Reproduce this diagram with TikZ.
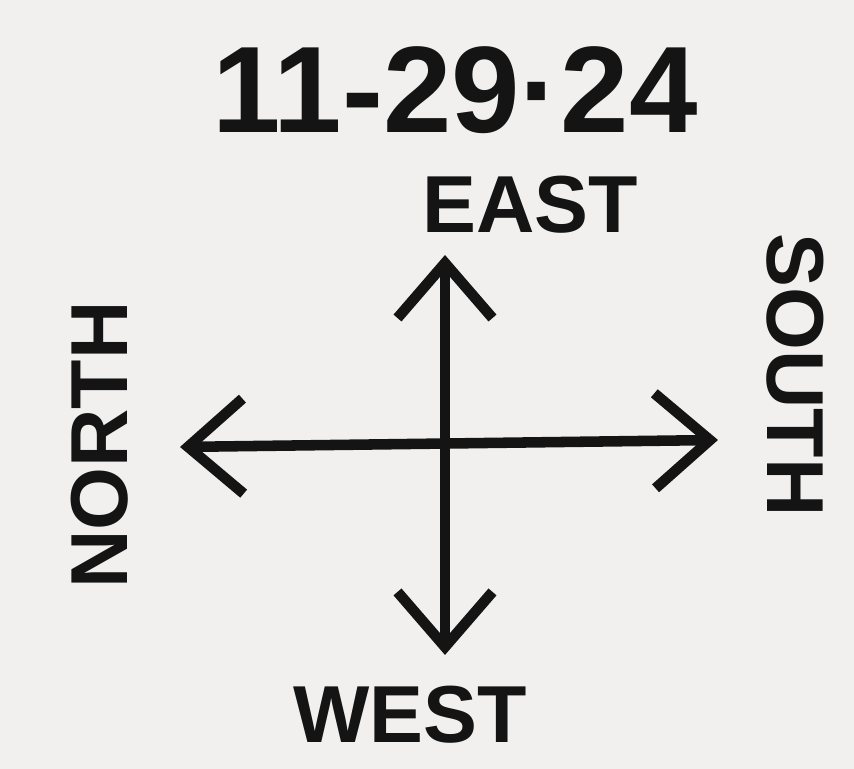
\documentclass[tikz,border=0pt]{standalone}
\usepackage{fontspec}
\setmainfont{Liberation Sans}
\usetikzlibrary{arrows.meta}
\definecolor{paper}{HTML}{F1F0EF}
\definecolor{ink}{HTML}{141414}
\tikzset{
  pen/.style={draw=ink, line width=3pt, line cap=round, line join=round},
  tip/.tip={Straight Barb[length=0.55cm, width=0.95cm, line width=3pt]},
  barbs/.style={tip-tip},
  lbl/.style={text=ink, inner sep=0pt, font=\bfseries\fontsize{23}{27}\selectfont}
}
\begin{document}
\begin{tikzpicture}
\fill[paper] (0,0) rectangle (8.54,7.69);
\useasboundingbox (0,0) rectangle (8.54,7.69);
\node[text=ink, inner sep=0pt, font=\bfseries\fontsize{35}{40}\selectfont] (title) at (4.55,6.79) {11-29·24};
\node[lbl] (east) at (5.30,5.64) {EAST};
\node[lbl] (west) at (4.10,0.54) {WEST};
\node[lbl, rotate=90] (north) at (1.00,3.24) {NORTH};
\node[lbl, rotate=-90] (south) at (7.95,3.94) {SOUTH};
\coordinate (top) at (4.45,5.14);
\coordinate (bot) at (4.45,1.14);
\coordinate (left) at (1.80,3.22);
\coordinate (right) at (7.18,3.29);
\draw[pen, barbs] (bot) -- (top);
\draw[pen, barbs] (left) -- (right);
\end{tikzpicture}
\end{document}
